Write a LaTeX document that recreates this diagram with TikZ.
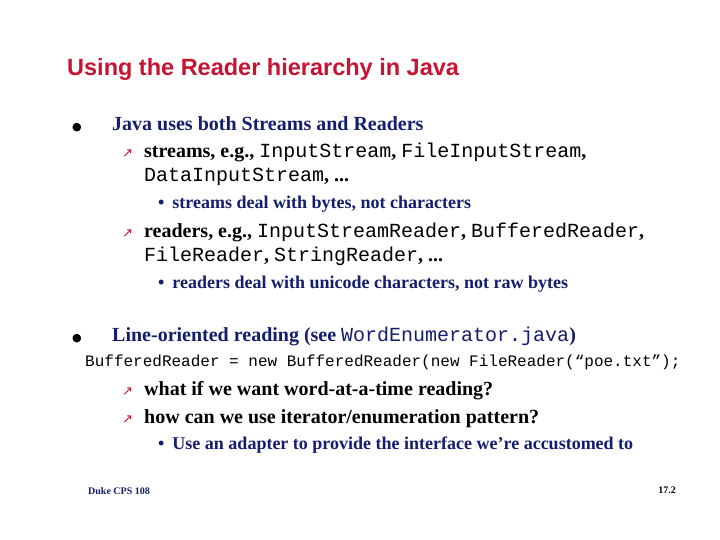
\documentclass[tikz,border=0pt]{standalone}
\usepackage{fontspec}
\setmainfont{Liberation Serif}
\setsansfont{Liberation Sans}
\setmonofont{Liberation Mono}
\newfontfamily\symfont{DejaVu Sans}
\definecolor{navy}{RGB}{20,30,110}
\definecolor{slidered}{RGB}{200,20,50}
\tikzset{
  line/.style={anchor=base west, inner sep=0pt, font=\fontsize{20}{20}\selectfont\bfseries},
  lone/.style={line, text=navy},
  ltwo/.style={line, text=black},
  lthree/.style={anchor=base west, inner sep=0pt, text=navy, font=\fontsize{18}{18}\selectfont\bfseries},
  dot/.style={anchor=base west, inner sep=0pt, font=\fontsize{11}{11}\symfont},
  arr/.style={anchor=base west, inner sep=0pt, text=slidered, font=\fontsize{13}{13}\symfont}
}
\newcommand{\cw}[1]{{\mdseries\ttfamily #1}}
\begin{document}
\begin{tikzpicture}[x=1pt,y=-1pt]
\useasboundingbox[fill=white] (0,0) rectangle (720,540);
\node[anchor=base west, inner sep=0pt, text=slidered, font=\fontsize{23.5}{23.5}\sffamily\bfseries] (title) at (67,76) {Using the Reader hierarchy in Java};
% first point
\node[dot] (b1) at (72,131) {●};
\node[lone] (p1) at (112,131) {Java uses both Streams and Readers};
\node[arr] (a1) at (122,158) {↗};
\node[ltwo] (s1) at (144,158) {streams, e.g., \cw{InputStream}, \cw{FileInputStream},};
\node[ltwo] (s1b) at (144,182) {\cw{DataInputStream}, ...};
\node[lthree] (t1) at (158,209) {•\hspace{8pt}streams deal with bytes, not characters};
\node[arr] (a2) at (122,237) {↗};
\node[ltwo] (s2) at (144,237) {readers, e.g., \cw{InputStreamReader}, \cw{BufferedReader},};
\node[ltwo] (s2b) at (144,261) {\cw{FileReader}, \cw{StringReader}, ...};
\node[lthree] (t2) at (158,288) {•\hspace{8pt}readers deal with unicode characters, not raw bytes};
% second point
\node[dot] (b2) at (72,341) {●};
\node[lone] (p2) at (112,341) {Line-oriented reading (see \cw{WordEnumerator.java})};
\node[anchor=base west, inner sep=0pt, font=\fontsize{16}{16}\ttfamily] (code) at (85,366) {BufferedReader = new BufferedReader(new FileReader(“poe.txt”);};
\node[arr] (a3) at (122,395) {↗};
\node[ltwo] (s3) at (144,395) {what if we want word-at-a-time reading?};
\node[arr] (a4) at (122,423) {↗};
\node[ltwo] (s4) at (144,423) {how can we use iterator/enumeration pattern?};
\node[lthree] (t3) at (158,449) {•\hspace{8pt}Use an adapter to provide the interface we’re accustomed to};
% footer
\node[anchor=base west, inner sep=0pt, text=navy, font=\fontsize{10}{10}\selectfont\bfseries] (foot) at (88,494) {Duke CPS 108};
\node[anchor=base east, inner sep=0pt, font=\fontsize{10}{10}\selectfont\bfseries] (page) at (676,493) {17.2};
\end{tikzpicture}
\end{document}
